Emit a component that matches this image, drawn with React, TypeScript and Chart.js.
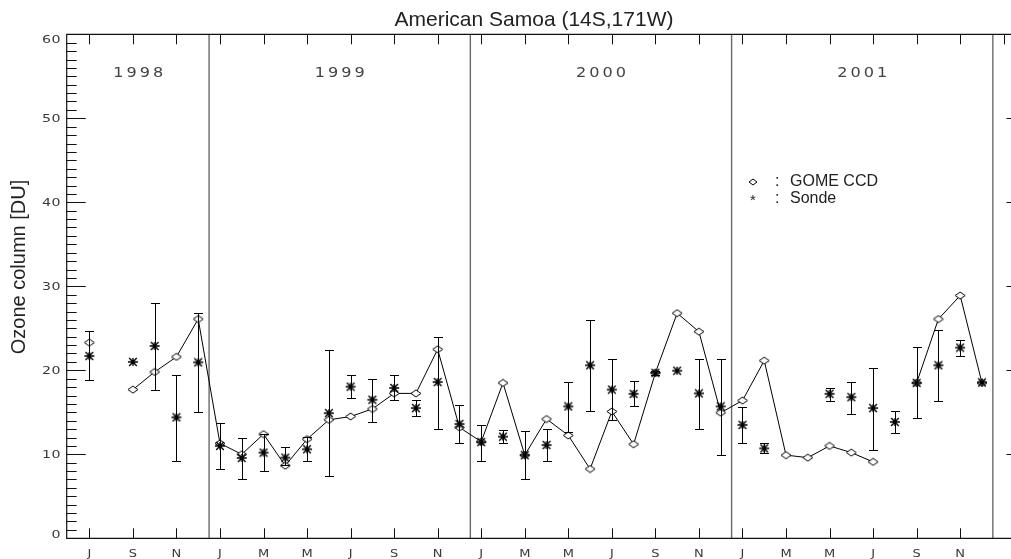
import React, { useEffect, useRef } from "react";
import { Chart, registerables } from "chart.js";
Chart.register(...registerables);

// month index: 0 = Jan 1998
const monthIndex = [6, 7, 8, 9, 10, 11, 12, 13, 14, 15, 16, 17, 18, 19, 20, 21, 22, 23, 24, 25, 26, 27, 28, 29, 30, 31, 32, 33, 34, 35, 36, 37, 38, 39, 40, 41, 42, 43, 44, 45, 46, 47];
const gomeCCD = [23.3, null, 17.7, 19.8, 21.6, 26.1, 11.3, 10.0, 12.4, 8.65, 11.8, 14.1, 14.5, 15.4, 17.25, 17.25, 22.5, 13.2, 11.5, 18.5, 9.9, 14.2, 12.25, 8.25, 15.1, 11.2, 19.7, 26.8, 24.6, 14.95, 16.4, 21.15, 9.9, 9.6, 11.0, 10.2, 9.1, null, 18.5, 26.1, 28.9, 18.5];
const sondeMean = [21.7, null, 21.0, 22.9, 14.4, 20.95, 11.0, 9.56, 10.2, 9.6, 10.6, 14.9, 18.05, 16.5, 17.9, 15.5, 18.6, 13.6, 11.45, 12.1, 9.9, 11.1, 15.7, 20.6, 17.7, 17.2, 19.7, 19.95, 17.25, 15.7, 13.5, 10.7, null, null, 17.2, 16.8, 15.5, 13.85, 18.5, 20.6, 22.7, 18.55];
const sondeLow = [18.8, null, null, 17.7, 9.2, 15.0, 8.2, 7.0, 8.05, 8.7, 9.2, 7.4, 16.7, 13.8, 16.5, 14.6, 13.0, 11.3, 9.2, 11.35, 7.0, 9.2, 12.65, 15.15, 14.1, 15.8, 19.5, null, 13.0, 9.9, 11.35, 10.1, null, null, 16.4, 14.85, 10.5, 12.5, 14.3, 16.3, 21.75, null];
const sondeHigh = [24.7, null, null, 28.0, 19.4, 26.8, 13.7, 12.0, 12.4, 10.9, 12.1, 22.4, 19.4, 19.0, 19.4, 16.5, 24.0, 15.9, 13.45, 12.9, 12.8, 13.0, 18.65, 26.0, 21.3, 18.7, 19.95, null, 21.4, 21.4, 15.6, 11.35, null, null, 17.95, 18.65, 20.3, 15.2, 22.8, 24.8, 23.65, null];

const yearLabels = ["1998", "1999", "2000", "2001"];
const yearCenters = [8.25, 17.5, 29.5, 41.5];
const yearSeparators = [11.5, 23.5, 35.5, 47.5];
const xTickMonths = [6, 8, 10, 12, 14, 16, 18, 20, 22, 24, 26, 28, 30, 32, 34, 36, 38, 40, 42, 44, 46];
const xTickLabels = ["J", "S", "N", "J", "M", "M", "J", "S", "N", "J", "M", "M", "J", "S", "N", "J", "M", "M", "J", "S", "N"];
const topTickMonths = [6, 8, 10, 12, 14, 16, 18, 20, 22, 24, 26, 28, 30, 32, 34, 36, 38, 40, 42, 44, 46, 48];
const yMajorTicks = [0, 10, 20, 30, 40, 50, 60];
const yTickLabels = ["0", "10", "20", "30", "40", "50", "60"];

const TITLE = "American Samoa (14S,171W)";
const Y_TITLE = "Ozone column [DU]";
const LEGEND_GOME = "GOME CCD";
const LEGEND_SONDE = "Sonde";

const CW = 1040;
const CH = 559;

function makeDiamond(w: number, h: number) {
  const c = document.createElement("canvas");
  c.width = w + 2;
  c.height = h + 2;
  const ctx = c.getContext("2d")!;
  const cx = c.width / 2;
  const cy = c.height / 2;
  ctx.fillStyle = "#fff";
  ctx.strokeStyle = "#000";
  ctx.lineWidth = 1;
  ctx.beginPath();
  ctx.moveTo(cx - w / 2, cy);
  ctx.lineTo(cx, cy - h / 2);
  ctx.lineTo(cx + w / 2, cy);
  ctx.lineTo(cx, cy + h / 2);
  ctx.closePath();
  ctx.fill();
  ctx.stroke();
  return c;
}

function makeAsterisk(w: number, h: number) {
  const c = document.createElement("canvas");
  c.width = w + 2;
  c.height = h + 2;
  const ctx = c.getContext("2d")!;
  const cx = c.width / 2;
  const cy = c.height / 2;
  ctx.strokeStyle = "#000";
  ctx.lineWidth = 1.4;
  ctx.beginPath();
  ctx.moveTo(cx - w / 2, cy);
  ctx.lineTo(cx + w / 2, cy);
  ctx.moveTo(cx - w * 0.38, cy - h / 2);
  ctx.lineTo(cx + w * 0.38, cy + h / 2);
  ctx.moveTo(cx - w * 0.38, cy + h / 2);
  ctx.lineTo(cx + w * 0.38, cy - h / 2);
  ctx.moveTo(cx, cy - h / 2);
  ctx.lineTo(cx, cy + h / 2);
  ctx.stroke();
  return c;
}

function drawSpaced(
  ctx: CanvasRenderingContext2D,
  text: string,
  x: number,
  yCenter: number,
  size: number,
  family: string,
  sx: number,
  spacing: number,
  align: "left" | "center" | "right",
  color: string
) {
  ctx.save();
  ctx.font = `${size}px ${family}`;
  ctx.fillStyle = color;
  ctx.textBaseline = "alphabetic";
  ctx.textAlign = "left";
  const chars = Array.from(text);
  const ws = chars.map((c) => ctx.measureText(c).width * sx);
  const total = ws.reduce((a, b) => a + b, 0) + spacing * (chars.length - 1);
  let cx = align === "left" ? x : align === "center" ? x - total / 2 : x - total;
  const base = yCenter + size * 0.36;
  chars.forEach((c, i) => {
    ctx.save();
    ctx.translate(cx, base);
    ctx.scale(sx, 1);
    ctx.fillText(c, 0, 0);
    ctx.restore();
    cx += ws[i] + spacing;
  });
  ctx.restore();
}

const HERSHEY = "'DejaVu Sans'";

export default function App() {
  const ref = useRef<HTMLCanvasElement | null>(null);

  useEffect(() => {
    if (!ref.current) return;
    const diamond = makeDiamond(10, 7);
    const asterisk = makeAsterisk(10, 8);
    const legendDiamond = makeDiamond(8, 6);

    const separatorPlugin = {
      id: "separators",
      beforeDatasetsDraw(chart: any) {
        const { ctx, chartArea } = chart;
        const xs = chart.scales.x;
        ctx.save();
        ctx.strokeStyle = "#6a6a6a";
        ctx.lineWidth = 1.4;
        yearSeparators.forEach((m) => {
          const x = xs.getPixelForValue(m);
          ctx.beginPath();
          ctx.moveTo(x, chartArea.top);
          ctx.lineTo(x, chartArea.bottom);
          ctx.stroke();
        });
        ctx.restore();
      },
    };

    const errorBarPlugin = {
      id: "errorbars",
      afterDatasetsDraw(chart: any) {
        const { ctx } = chart;
        const xs = chart.scales.x;
        const ys = chart.scales.y;
        ctx.save();
        ctx.strokeStyle = "#000";
        ctx.lineWidth = 1;
        monthIndex.forEach((m, i) => {
          const lo = sondeLow[i];
          const hi = sondeHigh[i];
          if (lo == null || hi == null) return;
          const x = Math.round(xs.getPixelForValue(m)) + 0.5;
          const yl = Math.round(ys.getPixelForValue(lo)) + 0.5;
          const yh = Math.round(ys.getPixelForValue(hi)) + 0.5;
          ctx.beginPath();
          ctx.moveTo(x, yl);
          ctx.lineTo(x, yh);
          ctx.moveTo(x - 4.5, yl);
          ctx.lineTo(x + 4.5, yl);
          ctx.moveTo(x - 4.5, yh);
          ctx.lineTo(x + 4.5, yh);
          ctx.stroke();
        });
        ctx.restore();
      },
    };

    const framePlugin = {
      id: "frame",
      afterDraw(chart: any) {
        const { ctx, chartArea } = chart;
        const xs = chart.scales.x;
        const ys = chart.scales.y;
        const L = chartArea.left;
        const R = chartArea.right;
        const T = chartArea.top;
        const B = chartArea.bottom;
        ctx.save();
        ctx.strokeStyle = "#111";
        ctx.lineWidth = 1.2;
        ctx.beginPath();
        ctx.rect(L, T, R - L, B - T);
        ctx.stroke();

        // y ticks (minor every 1, major every 10)
        ctx.lineWidth = 1;
        ctx.beginPath();
        for (let v = 0; v <= 60; v++) {
          const y = Math.round(ys.getPixelForValue(v)) + 0.5;
          const len = yMajorTicks.includes(v) ? 19 : 10;
          if (v !== 0 && v !== 60) {
            ctx.moveTo(L, y);
            ctx.lineTo(L + len, y);
            ctx.moveTo(R, y);
            ctx.lineTo(R - len, y);
          }
        }
        ctx.stroke();

        // x ticks
        ctx.beginPath();
        xTickMonths.forEach((m) => {
          const x = Math.round(xs.getPixelForValue(m)) + 0.5;
          ctx.moveTo(x, B);
          ctx.lineTo(x, B - 10);
        });
        topTickMonths.forEach((m) => {
          const x = Math.round(xs.getPixelForValue(m)) + 0.5;
          ctx.moveTo(x, T);
          ctx.lineTo(x, T + 10);
        });
        ctx.stroke();

        // y tick labels
        yMajorTicks.forEach((v, i) => {
          let y = ys.getPixelForValue(v);
          if (v === 60) y += 4.5;
          if (v === 0) y -= 4;
          drawSpaced(ctx, yTickLabels[i], 60.5, y, 10.5, HERSHEY, 1.35, 0.5, "right", "#3a3a3a");
        });

        // x tick labels
        xTickMonths.forEach((m, i) => {
          const x = xs.getPixelForValue(m);
          drawSpaced(ctx, xTickLabels[i], x, 553, 10, HERSHEY, 1.3, 0, "center", "#3a3a3a");
        });

        // year labels
        yearLabels.forEach((t, i) => {
          const x = xs.getPixelForValue(yearCenters[i]);
          const y = ys.getPixelForValue(55.5);
          drawSpaced(ctx, t, x, y, 14, HERSHEY, 1.15, 3, "center", "#444");
        });

        // title
        ctx.fillStyle = "#222";
        ctx.font = "21px 'Liberation Sans'";
        ctx.textAlign = "center";
        ctx.textBaseline = "alphabetic";
        ctx.fillText(TITLE, 534, 26);

        // y title
        ctx.save();
        ctx.translate(25, 267);
        ctx.rotate(-Math.PI / 2);
        ctx.font = "20px 'Liberation Sans'";
        ctx.textAlign = "center";
        ctx.textBaseline = "alphabetic";
        ctx.fillText(Y_TITLE, 0, 0);
        ctx.restore();

        // legend
        ctx.drawImage(legendDiamond, 753 - legendDiamond.width / 2, 182 - legendDiamond.height / 2);
        ctx.font = "16px 'Liberation Sans'";
        ctx.textAlign = "left";
        ctx.textBaseline = "middle";
        ctx.fillStyle = "#222";
        ctx.fillText(":", 775, 182);
        ctx.fillText(LEGEND_GOME, 790, 182);
        ctx.fillText(":", 775, 199);
        ctx.fillText(LEGEND_SONDE, 790, 199);
        ctx.font = "15px 'Liberation Sans'";
        ctx.textAlign = "center";
        ctx.fillText("*", 753, 201);
        ctx.restore();
      },
    };

    const chart = new Chart(ref.current, {
      type: "scatter",
      data: {
        datasets: [
          {
            label: LEGEND_SONDE,
            data: monthIndex.map((m, i) => ({ x: m, y: sondeMean[i] })),
            showLine: false,
            pointStyle: asterisk as any,
            pointRadius: 5,
          },
          {
            label: LEGEND_GOME,
            data: monthIndex.map((m, i) => ({ x: m, y: gomeCCD[i] })),
            showLine: true,
            spanGaps: false,
            borderColor: "#000",
            borderWidth: 1,
            pointStyle: diamond as any,
            pointRadius: 5,
          },
        ],
      },
      options: {
        responsive: false,
        animation: false,
        layout: { padding: { left: 66.7, top: 34.3, right: CW - 1025.5, bottom: CH - 538.3 } },
        scales: {
          x: { type: "linear", min: 4.96, max: 49, display: false },
          y: { type: "linear", min: 0, max: 60, display: false },
        },
        plugins: {
          legend: { display: false },
          tooltip: { enabled: false },
          title: { display: false },
        },
      },
      plugins: [separatorPlugin, errorBarPlugin, framePlugin],
    });
    return () => chart.destroy();
  }, []);

  return (
    <div
      style={{
        position: "fixed",
        left: 0,
        top: 0,
        width: 1011,
        height: 559,
        overflow: "hidden",
        background: "#fff",
      }}
    >
      <canvas ref={ref} width={CW} height={CH} style={{ width: CW, height: CH, display: "block" }} />
    </div>
  );
}
